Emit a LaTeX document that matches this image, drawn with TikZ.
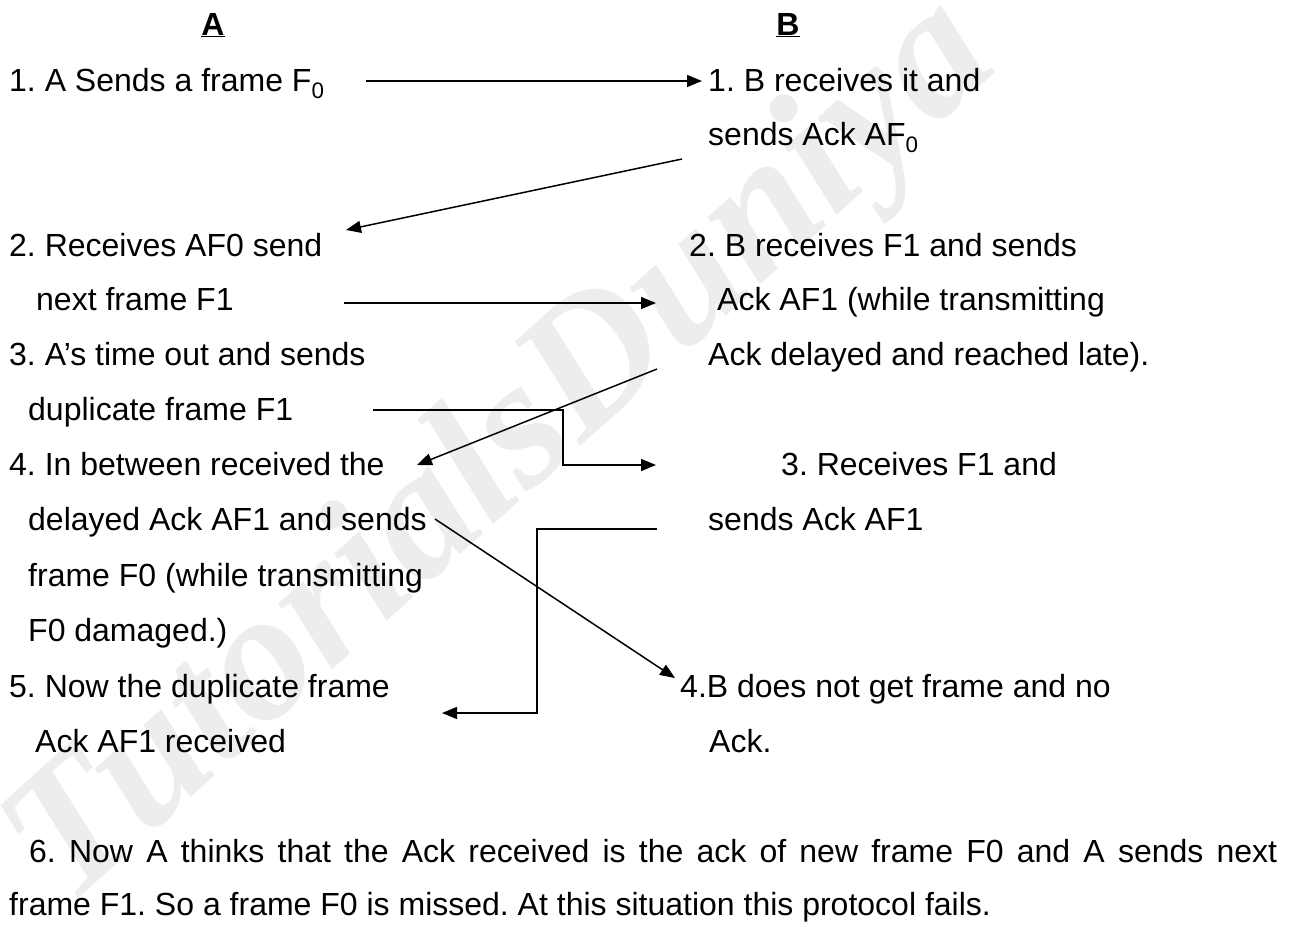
\documentclass[tikz,border=0pt]{standalone}
\usepackage{fontspec}
\setmainfont{Liberation Sans}
\newfontfamily\wmfont{Liberation Serif}
\usetikzlibrary{arrows.meta}
\frenchspacing
\begin{document}
\begin{tikzpicture}[x=1pt,y=-1pt,
  txt/.style={anchor=base west,inner sep=0pt,font=\fontsize{32}{38}\selectfont},
  hdr/.style={anchor=base,inner sep=0pt,font=\fontsize{32}{38}\selectfont\bfseries},
  conn/.style={line width=1.5pt},
  arr/.style={conn,-{Triangle[length=15pt,width=12pt]}},
  wmark/.style={rotate=42,text=black!7,inner sep=0pt,font=\wmfont\fontsize{185}{185}\selectfont\bfseries\itshape}]
\useasboundingbox[fill=white] (0,0) rectangle (1300,924);
% watermark
\node[wmark] (wm) at (505,455) {TutorialsDuniya};
% headers
\node[hdr] (hA) at (213,35) {\underline{A}};
\node[hdr] (hB) at (788,35) {\underline{B}};
% texts
\node[txt] (t1a) at (9,91) {1. A Sends a frame F\textsubscript{0}};
\node[txt] (t1b) at (708,91) {1. B receives it and};
\node[txt] (t1c) at (708,145) {sends Ack AF\textsubscript{0}};
\node[txt] (t2a) at (9,256) {2. Receives AF0 send};
\node[txt] (t2b) at (689,256) {2. B receives F1 and sends};
\node[txt] (t2c) at (36,310) {next frame F1};
\node[txt] (t2d) at (717,310) {Ack AF1 (while transmitting};
\node[txt] (t3a) at (9,365) {3. A’s time out and sends};
\node[txt] (t3b) at (708,365) {Ack delayed and reached late).};
\node[txt] (t3c) at (28,420) {duplicate frame F1};
\node[txt] (t4a) at (9,475) {4. In between received the};
\node[txt] (t4b) at (781,475) {3. Receives F1 and};
\node[txt] (t4c) at (28,530) {delayed Ack AF1 and sends};
\node[txt] (t4d) at (708,530) {sends Ack AF1};
\node[txt] (t4e) at (28,586) {frame F0 (while transmitting};
\node[txt] (t4f) at (28,641) {F0 damaged.)};
\node[txt] (t5a) at (9,697) {5. Now the duplicate frame};
\node[txt] (t5b) at (680,697) {4.B does not get frame and no};
\node[txt] (t5c) at (35,752) {Ack AF1 received};
\node[txt] (t5d) at (709,752) {Ack.};
\node[txt] (t6a) at (29,862) {\makebox[1248pt][s]{6. Now A thinks that the Ack received is the ack of new frame F0 and A sends next}};
\node[txt] (t6b) at (9,915) {frame F1. So a frame F0 is missed. At this situation this protocol fails.};
% connector end points
\coordinate (a1s) at (366,81);
\coordinate (a1e) at (702,81);
\coordinate (a2s) at (682,159);
\coordinate (a2e) at (346,230);
\coordinate (a3s) at (344,303);
\coordinate (a3e) at (656,303);
\coordinate (a4s) at (657,369);
\coordinate (a4e) at (417,465);
\coordinate (a5s) at (373,410);
\coordinate (a5c) at (563,410);
\coordinate (a5e) at (656,465);
\coordinate (a6s) at (657,529);
\coordinate (a6c) at (537,529);
\coordinate (a6e) at (442,713);
\coordinate (a7s) at (435,519);
\coordinate (a7e) at (675,678);
% connectors
\draw[arr] (a1s) -- (a1e);
\draw[arr] (a2s) -- (a2e);
\draw[arr] (a3s) -- (a3e);
\draw[arr] (a4s) -- (a4e);
\draw[arr] (a5s) -- (a5c) |- (a5e);
\draw[arr] (a6s) -- (a6c) |- (a6e);
\draw[arr] (a7s) -- (a7e);
\end{tikzpicture}
\end{document}
